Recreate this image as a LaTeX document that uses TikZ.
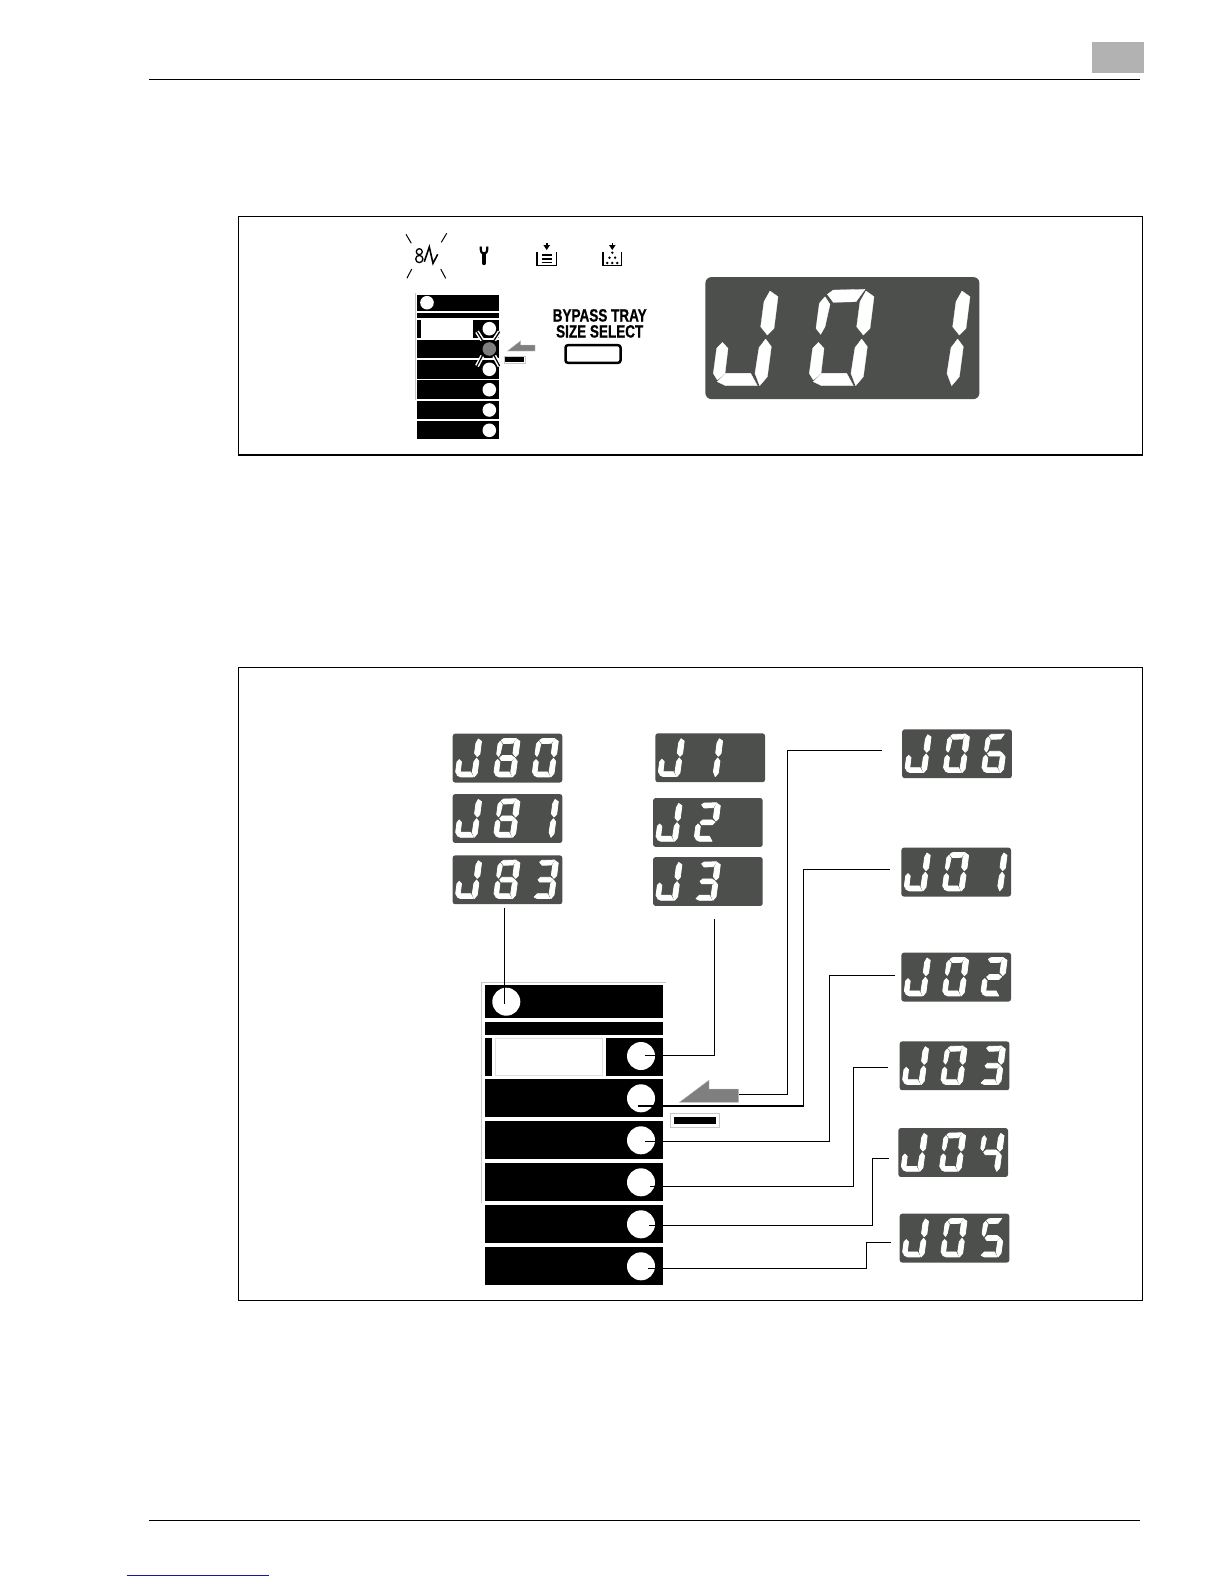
\documentclass[tikz,border=0pt]{standalone}
\usepackage{fontspec}
\setmainfont{Liberation Sans}
\newfontfamily\lblfont[UprightFont=* Bold,FakeBold=0.7]{Liberation Sans}
\definecolor{dispgray}{HTML}{4D4F4C}
\definecolor{ledgray}{HTML}{7F7F7F}
\definecolor{framegray}{HTML}{C8C8C8}
\definecolor{windowgray}{HTML}{E0E0E0}
\definecolor{tabgray}{HTML}{B2B2B2}
\definecolor{linkblue}{HTML}{1818A0}
\tikzset{
  panelframe/.style={draw=black,line width=.5pt,fill=none},
  rule/.style={draw=black,line width=.7pt},
  conn/.style={draw=black,line width=.5pt},
  connheavy/.style={draw=black,line width=.95pt},
  blackbar/.style={fill=black},
  led/.style={circle,fill=white,inner sep=0pt,minimum size=#1},
  dispbox/.style={fill=dispgray,anchor=north west,inner sep=0pt},
  seg/.style={fill=white,draw=white,line join=round},
  thingray/.style={draw=framegray,line width=.4pt},
  windowline/.style={draw=windowgray,line width=.45pt},
  pointer/.style={fill=ledgray,draw=framegray,line width=.2pt},
  icon/.style={draw=black,line width=.65pt},
}
% seven-segment shapes, in units of a third of a big-display pixel
\def\segA{\path[seg] (367,53)--(385,40)--(480,38)--(453,75)--(385,77)--cycle;}
\def\segF{\path[seg] (360,60)--(375,83)--(360,150)--(347,173)--(333,155)--(343,80)--cycle;}
\def\segB{\path[seg] (483,43)--(507,60)--(495,155)--(475,175)--(455,150)--(465,75)--cycle;}
\def\segE{\path[seg] (340,197)--(357,215)--(348,290)--(325,310)--(313,290)--(323,215)--cycle;}
\def\segC{\path[seg] (470,187)--(487,210)--(475,300)--(452,327)--(438,290)--(450,213)--cycle;}
\def\segD{\path[seg] (325,315)--(350,290)--(425,290)--(445,327)--(350,327)--cycle;}
\def\segG{\path[seg] (355,185)--(375,167)--(445,167)--(467,183)--(447,203)--(367,203)--cycle;}
\expandafter\def\csname dgJ\endcsname{\segB\segC\segD\segE}
\expandafter\def\csname dg0\endcsname{\segA\segB\segC\segD\segE\segF}
\expandafter\def\csname dg1\endcsname{\segB\segC}
\expandafter\def\csname dg2\endcsname{\segA\segB\segG\segE\segD}
\expandafter\def\csname dg3\endcsname{\segA\segB\segG\segC\segD}
\expandafter\def\csname dg4\endcsname{\segF\segG\segB\segC}
\expandafter\def\csname dg5\endcsname{\segA\segF\segG\segC\segD}
\expandafter\def\csname dg6\endcsname{\segA\segF\segG\segE\segC\segD}
\expandafter\def\csname dg8\endcsname{\segA\segB\segC\segD\segE\segF\segG}
% name, left, top, scale, digits
\newcommand{\dispunit}[5]{%
  \node[dispbox,rounded corners={#4*3pt},minimum width={#4*137pt},minimum height={#4*61pt}] (#1) at (#2,#3) {};
  \begin{scope}[shift={(#2,#3)},scale={#4/3},line width={.53pt-#4*.38pt}]
    \foreach \dg [count=\pos] in {#5} {
      \begin{scope}[shift={({(\pos-2)*288},0)}]
        \csname dg\dg\endcsname
      \end{scope}
    }
  \end{scope}
}
\begin{document}
\begin{tikzpicture}[x=.5pt,y=-.5pt]
\useasboundingbox (0,0) rectangle (1224,1584);
% page furniture
\fill[tabgray] (1092,42) rectangle (1144,73);
\draw[rule] (149,79.8) -- (1140,79.8);
\draw[rule] (149,1520.3) -- (1140,1520.3);
\draw[linkblue,line width=.6pt] (126.7,1575.3) -- (269,1575.3);
\draw[panelframe] (238.3,216.8) rectangle (1142.3,455.2);
\draw[black,line width=.8pt] (238.3,455.2) -- (1142.3,455.2);
\draw[panelframe] (238.3,667.4) rectangle (1142.3,1300.5);

% --- top panel ---
\foreach \a/\b/\c/\d in {406/234.3/411.3/243.3,446.7/233.3/441.3/242.3,411.7/269/407/278.3,440.7/269/445.7/278.3}
  \draw[black,line width=.5pt] (\a,\b) -- (\c,\d);
\draw[icon] (419.3,251.7) circle[radius=3];
\draw[icon] (419.3,259) circle[radius=3.6];
\draw[icon,line width=.8pt,line join=miter] (424.3,261.7) -- (429.3,247) -- (433,263.3) -- (437.7,254.3);
% wrench
\draw[black,line width=2.2pt,line cap=round] (484,254) -- (484,263);
\draw[black,line width=1.1pt] (480.6,246.5) .. controls (480.6,252) and (482,254) .. (484,254) .. controls (486,254) and (487.4,252) .. (487.4,246.5);
% tray with sheets
\draw[icon] (536.9,251.7) |- (556.3,265.7) -- (556.3,251.7);
\foreach \yy in {255,258.7,262.3} \draw[black,line width=.8pt] (541.7,\yy) -- (551.7,\yy);
\draw[black,line width=.8pt] (546.7,243) -- (546.7,247);
\fill[black] (543.4,245) -- (550,245) -- (546.7,250) -- cycle;
% tray with toner
\draw[icon] (602.9,251.7) |- (621.5,265.7) -- (621.5,251.7);
\draw[black,line width=.8pt] (612.3,243) -- (612.3,247);
\fill[black] (609,245) -- (615.6,245) -- (612.3,250) -- cycle;
\foreach \a/\b in {612.3/252.7,609.5/257.7,615.1/257.7,607.3/263,612.3/263,617.3/263}
  \fill[black] (\a,\b) circle[radius=1.35];
% small panel
\draw[thingray] (415.3,400) -- (415.3,293.3);
\fill[blackbar] (417,295) rectangle (499.3,310.7);
\fill[blackbar] (417,313) rectangle (499.3,318.3);
\fill[blackbar] (417,320) rectangle (420.7,338.3);
\fill[blackbar] (473.3,320) rectangle (499.3,338.3);
\fill[blackbar] (417,340) rectangle (499.3,358.3);
\fill[blackbar] (417,360) rectangle (499.3,378.7);
\fill[blackbar] (417,380.3) rectangle (499.3,399);
\fill[blackbar] (417,400.7) rectangle (499.3,419.3);
\fill[blackbar] (417,421) rectangle (499.3,439.3);
\node[led=6.8pt] (tl0) at (427,302.7) {};
\node[led=6.8pt] (tl1) at (489.3,328.7) {};
\node[led=6.8pt,fill=ledgray] (tl2) at (489.3,349) {};
\node[led=6.8pt] (tl3) at (489.3,369.3) {};
\node[led=6.8pt] (tl4) at (489.3,389.7) {};
\node[led=6.8pt] (tl5) at (489.3,410) {};
\node[led=6.8pt] (tl6) at (489.3,430.3) {};
\foreach \a/\b/\c/\d in {477/331.7/482.3/340,499.7/331.7/494.3/340,477/366/482.3/356,499.7/366/494.3/356}{
  \draw[white,line width=2.1pt] (\a,\b) -- (\c,\d);
  \draw[black,line width=.6pt] (\a,\b) -- (\c,\d);
}
\fill[pointer] (507.3,351) -- (520.7,340.7) -- (520.7,345) -- (535,345) -- (535,351) -- cycle;
\draw[thingray,line width=.3pt] (504,356) rectangle (525.3,363.3);
\fill[blackbar] (505.3,357.3) rectangle (524,362);
% bypass button
\node[font=\lblfont\fontsize{8.9pt}{10pt}\selectfont,inner sep=0pt] (lblbypass) at (599.7,315.4) {\scalebox{.76}[1]{BYPASS TRAY}};
\node[font=\lblfont\fontsize{8.9pt}{10pt}\selectfont,inner sep=0pt] (lblsize) at (599.7,331.4) {\scalebox{.76}[1]{SIZE SELECT}};
\draw[black,line width=1.25pt,rounded corners=1.2pt] (565.5,345.2) rectangle (620.5,362.8);
\dispunit{bigj01}{705}{276.7}{1}{J,0,1}

% --- bottom panel displays ---
\dispunit{j80}{452.3}{733.3}{.4}{J,8,0}
\dispunit{j81}{452.3}{793.7}{.4}{J,8,1}
\dispunit{j83}{452.3}{855}{.4}{J,8,3}
\dispunit{j1}{655}{733}{.4}{J,1}
\dispunit{j2}{652.7}{797.7}{.4}{J,2}
\dispunit{j3}{652.7}{856.7}{.4}{J,3}
\dispunit{j06}{901.8}{729}{.4}{J,0,6}
\dispunit{j01}{901}{847.3}{.4}{J,0,1}
\dispunit{j02}{901}{952.3}{.4}{J,0,2}
\dispunit{j03}{899.3}{1041}{.4}{J,0,3}
\dispunit{j04}{898}{1127.7}{.4}{J,0,4}
\dispunit{j05}{899.3}{1213.3}{.4}{J,0,5}

% --- bottom panel control ---
\draw[thingray,line width=.5pt] (481.7,1202.7) -- (481.7,982.3) -- (665.7,982.3);
\fill[blackbar] (484.7,985.3) rectangle (662.7,1018.3);
\fill[blackbar] (484.7,1022.3) rectangle (662.7,1034.7);
\fill[blackbar] (484.7,1038.3) rectangle (492,1075.7);
\fill[blackbar] (606,1038.3) rectangle (662.7,1075.7);
\draw[windowline] (495.3,1038.3) rectangle (602.7,1075.7);
\fill[blackbar] (484.7,1079.3) rectangle (662.7,1117);
\fill[blackbar] (484.7,1121.3) rectangle (662.7,1159);
\fill[blackbar] (484.7,1163.3) rectangle (662.7,1201);
\fill[blackbar] (484.7,1205.3) rectangle (662.7,1243.3);
\fill[blackbar] (484.7,1247.3) rectangle (662.7,1285.3);
\node[led=14pt] (b0) at (506.3,1001.7) {};
\node[led=14pt] (b1) at (641,1056) {};
\node[led=14pt] (b2) at (641,1098.3) {};
\node[led=14pt] (b3) at (641,1140.3) {};
\node[led=14pt] (b4) at (641,1182.3) {};
\node[led=14pt] (b5) at (641,1224.3) {};
\node[led=14pt] (b6) at (641,1266.3) {};
\fill[pointer] (679.3,1102.3) -- (709,1080) -- (709,1089) -- (738.7,1089) -- (738.7,1102.3) -- cycle;
\coordinate (arrowtail) at (738.7,1094);
\draw[thingray] (670.3,1113.3) rectangle (719.3,1127.3);
\fill[blackbar] (674,1117) rectangle (716,1124.3);

% --- connector ends ---
\coordinate (e83) at (504,907.7);   \coordinate (e83b) at (504,1004.3);
\coordinate (e3) at (714.3,919);    \coordinate (k3) at (714.3,1055.3);   \coordinate (e3b) at (645,1055.3);
\coordinate (e06) at (881.7,750);   \coordinate (k06) at (787.3,1094);
\coordinate (e01) at (890,869.7);   \coordinate (k01) at (803.7,1106);    \coordinate (e01b) at (638.3,1106);
\coordinate (e02) at (895,975.3);   \coordinate (k02) at (829.3,1141.3);  \coordinate (e02b) at (645,1141.3);
\coordinate (e03) at (888,1067.3);  \coordinate (k03) at (853.3,1186.3);  \coordinate (e03b) at (650,1186.3);
\coordinate (e04) at (888.7,1158);  \coordinate (k04) at (872.7,1225.3);  \coordinate (e04b) at (649,1225.3);
\coordinate (e05) at (891,1242);    \coordinate (k05) at (866.7,1268.3);  \coordinate (e05b) at (648.3,1268.3);
% --- connectors ---
\draw[conn] (e83) -- (e83b);
\draw[conn] (e3) -- (k3) -- (e3b);
\draw[conn] (e06) -| (k06) -- (arrowtail);
\draw[connheavy] (k01) -- (e01b);
\draw[conn] (e01) -| (k01);
\draw[conn] (e02) -| (k02) -- (e02b);
\draw[conn] (e03) -| (k03) -- (e03b);
\draw[conn] (e04) -| (k04) -- (e04b);
\draw[conn] (e05) -| (k05) -- (e05b);
\end{tikzpicture}
\end{document}
